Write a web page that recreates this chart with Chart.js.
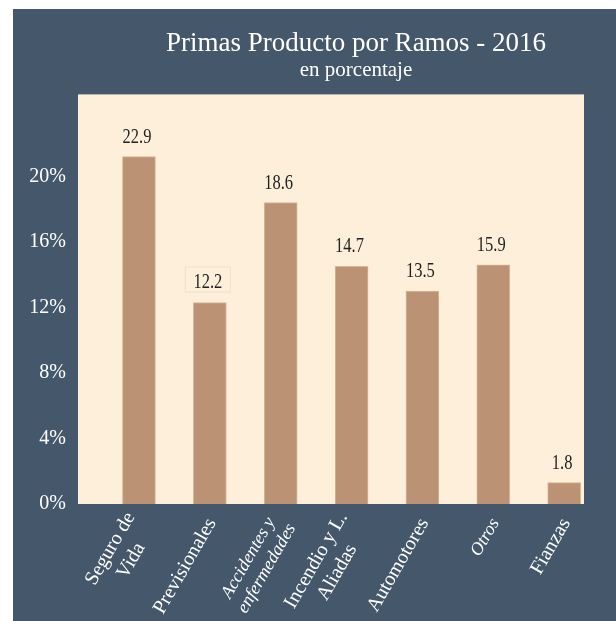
<!DOCTYPE html>
<html>
<head>
<meta charset="utf-8">
<script src="https://cdn.jsdelivr.net/npm/chart.js@4/dist/chart.umd.min.js"></script>
<style>
  body { margin: 0; background: #fff; overflow: hidden; }
  #panel { position: absolute; left: 13px; top: 9px; width: 603px; height: 612px; background: #44576b; overflow: hidden; }
</style>
</head>
<body>
<div id="panel"><canvas id="myChart" width="686" height="612"></canvas></div>
<script>
// categories (multi-line where the original wraps)
const categories = [['Seguro de', 'Vida'], 'Previsionales', ['Accidentes y', 'enfermedades'], ['Incendio y L.', 'Aliadas'], 'Automotores', 'Otros', 'Fianzas']
const italicCats = [false, false, true, false, false, true, false]
// bar heights as drawn (percent)
const barHeights = [21.2, 12.3, 18.4, 14.5, 13.0, 14.6, 1.3]
// values printed above bars
const valueLabels = ['22.9', '12.2', '18.6', '14.7', '13.5', '15.9', '1.8']
const yTicks = [0, 4, 8, 12, 16, 20]

const serif = 'Liberation Serif'

// cream plot background
const plotBg = {
  id: 'plotBg',
  beforeDraw(chart) {
    const a = chart.chartArea
    const ctx = chart.ctx
    ctx.save()
    ctx.fillStyle = '#fdefd9'
    ctx.fillRect(a.left, a.top, a.right - a.left, a.bottom - a.top)
    ctx.restore()
  }
}

// value text above each bar (narrow serif)
const valueText = {
  id: 'valueText',
  afterDatasetsDraw(chart) {
    const ctx = chart.ctx
    const meta = chart.getDatasetMeta(0)
    ctx.save()
    ctx.font = '22px "' + serif + '"'
    ctx.fillStyle = '#222'
    ctx.textAlign = 'center'
    ctx.textBaseline = 'alphabetic'
    meta.data.forEach((bar, i) => {
      const x = bar.x - 2
      const y = bar.y - 14
      if (i === 1) {
        ctx.strokeStyle = '#efe1c8'
        ctx.lineWidth = 1
        ctx.strokeRect(x - 22.5, y - 21.5, 45, 25)
      }
      ctx.save()
      ctx.translate(x, y)
      ctx.scale(0.75, 1)
      ctx.fillText(valueLabels[i], 0, 0)
      ctx.restore()
    })
    ctx.restore()
  }
}

// rotated category labels, lines centred inside the block, block ends at the tick
const catLabels = {
  id: 'catLabels',
  afterDraw(chart) {
    const sc = chart.scales.x
    const ctx = chart.ctx
    categories.forEach((cat, i) => {
      const lines = Array.isArray(cat) ? cat : [cat]
      const it = italicCats[i]
      const lh = it ? 21 : 24
      ctx.save()
      ctx.font = (it ? 'italic 18px "' : '20px "') + serif + '"'
      ctx.fillStyle = '#fff'
      ctx.textAlign = 'center'
      ctx.textBaseline = 'middle'
      const w = Math.max(...lines.map(l => ctx.measureText(l).width))
      ctx.translate(sc.getPixelForValue(i) + 2, chart.chartArea.bottom + 16)
      ctx.rotate(-Math.PI / 3)
      lines.forEach((l, j) => ctx.fillText(l, -w / 2, (j - (lines.length - 1) / 2) * lh))
      ctx.restore()
    })
  }
}

const ctx = document.getElementById('myChart').getContext('2d')
const chart = new Chart(ctx, {
  type: 'bar',
  data: {
    datasets: [{
      data: barHeights.map((v, i) => ({ x: i, y: v })),
      backgroundColor: '#bb9273',
      borderColor: '#d7b797',
      borderWidth: 1,
      barThickness: 33
    }]
  },
  options: {
    responsive: false,
    animation: false,
    layout: { padding: 0 },
    plugins: {
      legend: { display: false },
      tooltip: { enabled: false },
      title: {
        display: true,
        text: 'Primas Producto por Ramos - 2016',
        color: '#fff',
        font: { family: serif, size: 27, weight: 'normal' },
        padding: { top: 19, bottom: 0 }
      },
      subtitle: {
        display: true,
        text: 'en porcentaje',
        color: '#fff',
        font: { family: serif, size: 21, weight: 'normal', lineHeight: 1 },
        padding: { top: 0, bottom: 13 }
      }
    },
    scales: {
      x: {
        type: 'linear',
        bounds: 'data',
        offset: false,
        min: -0.86,
        max: 6.28,
        grid: { display: false, drawTicks: false, offset: false },
        border: { display: false },
        afterBuildTicks: s => { s.ticks = categories.map((c, i) => ({ value: i })) },
        afterFit: s => { s.height = 117 },
        ticks: { display: false }
      },
      y: {
        min: 0,
        max: 25,
        grid: { display: false, drawTicks: false },
        border: { display: false },
        afterBuildTicks: s => { s.ticks = yTicks.map(v => ({ value: v })) },
        afterFit: s => { s.width = 65 },
        ticks: {
          padding: 12,
          color: '#fff',
          font: { family: serif, size: 20 },
          callback: v => v + '%'
        }
      },
      // empty axis only to keep the right margin
      yRight: {
        position: 'right',
        grid: { display: false, drawTicks: false },
        border: { display: false },
        ticks: { display: false },
        afterFit: s => { s.width = 115 }
      }
    }
  },
  plugins: [plotBg, valueText, catLabels]
})
</script>
</body>
</html>
